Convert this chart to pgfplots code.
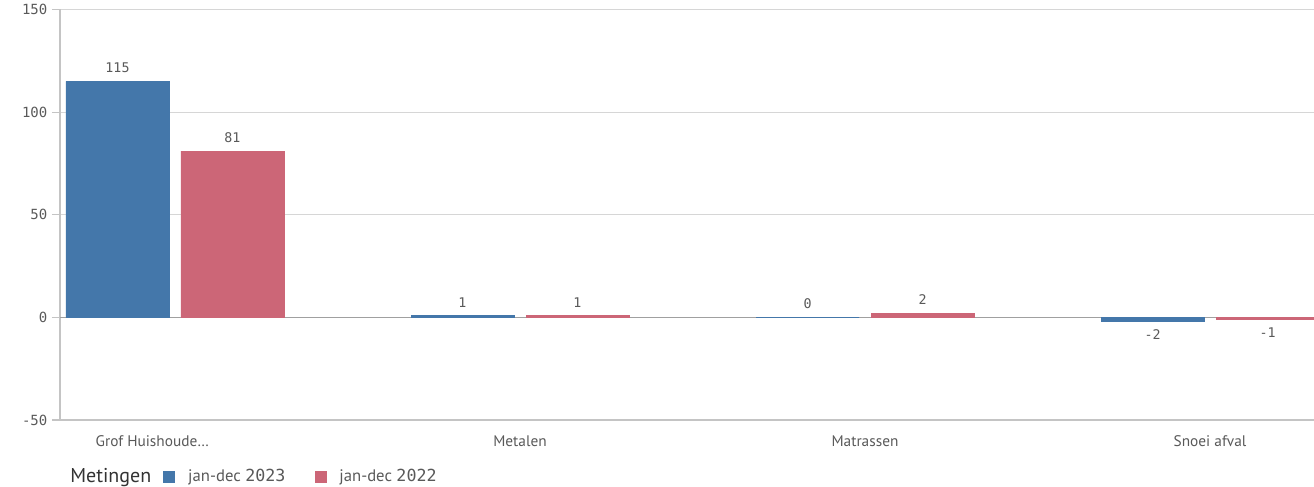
\documentclass[border=0pt]{standalone}
\usepackage{pgfplots}
\pgfplotsset{compat=1.18}
\usepackage{fontspec}
\setmainfont{PT Sans}
\newfontfamily\monofont{DejaVu Sans Mono}
\definecolor{cblue}{HTML}{4477AA}
\definecolor{cred}{HTML}{CC6677}
\definecolor{txt}{HTML}{595959}
\definecolor{gridc}{HTML}{D6D6D6}
\definecolor{axc}{HTML}{C4C4C4}
\definecolor{zeroc}{HTML}{A0A0A0}
\begin{document}
\begin{tikzpicture}
\path[use as bounding box] (-45pt,-49.5pt) rectangle (940.5pt,315pt);
\begin{axis}[
  at={(0,0)}, anchor=south west,
  scale only axis, width=940.5pt, height=307.9pt,
  xmin=-0.3333, xmax=3.3014, ymin=-50, ymax=150,
  ybar=9pt, bar width=77.25pt,
  clip mode=individual,
  axis lines*=left,
  axis line style={draw=axc, line width=0.9pt},
  ymajorgrids, grid style={draw=gridc, line width=0.9pt},
  ytick={-50,0,50,100,150},
  /pgf/number format/assume math mode=true,
  yticklabel style={font=\monofont\fontsize{10.5}{12}\selectfont, text=txt},
  y tick style={draw=axc, line width=0.9pt},
  major tick length=6pt, tick align=outside,
  xtick={0,1,2,3},
  xticklabels={{Grof Huishoude\dots\hspace*{34pt}}, Metalen, Matrassen, Snoei afval},
  x tick style={draw=none},
  xticklabel style={font=\fontsize{11.5}{13}\selectfont, text=txt, yshift=-2pt},
  extra y ticks={0}, extra y tick labels={},
  extra y tick style={grid style={draw=zeroc, line width=1.1pt}, tick style={draw=none}},
  nodes near coords,
  every node near coord/.append style={font=\monofont\fontsize{10}{11}\selectfont, text=txt, inner sep=6pt},
]
\addplot[fill=cblue, draw=cblue, line width=0.4pt] coordinates {(0,115) (1,1) (2,0) (3,-2)};
\addplot[fill=cred, draw=cred, line width=0.4pt] coordinates {(0,81) (1,1) (2,2) (3,-1)};
\node[anchor=west, inner sep=0pt, font=\fontsize{15}{17}\selectfont, text=black!80] at (axis description cs:0.008,-0.139) {Metingen};
\node[anchor=west, inner sep=0pt, font=\fontsize{12.5}{14}\selectfont, text=txt] at (axis description cs:0.0821,-0.139)
  {\textcolor{cblue}{\rule[-1pt]{9pt}{9pt}}\hspace{9.75pt}jan-dec {\monofont 2023}\hspace{22.5pt}\textcolor{cred}{\rule[-1pt]{9pt}{9pt}}\hspace{9pt}jan-dec {\monofont 2022}};
\end{axis}
\end{tikzpicture}
\end{document}
